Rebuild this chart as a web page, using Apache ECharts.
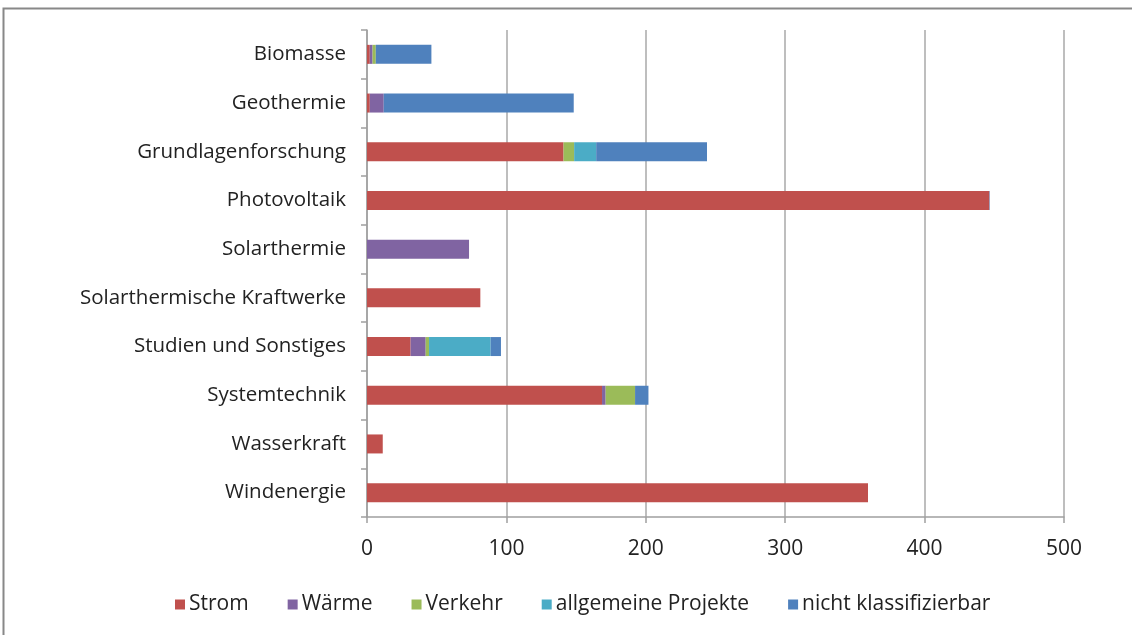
<!DOCTYPE html>
<html>
<head>
<meta charset="utf-8">
<script src="https://cdn.jsdelivr.net/npm/echarts@6/dist/echarts.min.js"></script>
<style>
html,body{margin:0;padding:0;background:#fff;}
#chart{width:1132px;height:635px;}
</style>
</head>
<body>
<div id="chart"></div>
<script>
var categories = ["Biomasse","Geothermie","Grundlagenforschung","Photovoltaik","Solarthermie","Solarthermische Kraftwerke","Studien und Sonstiges","Systemtechnik","Wasserkraft","Windenergie"];
var seriesNames = ["Strom","Wärme","Verkehr","allgemeine Projekte","nicht klassifizierbar"];
var strom      = [2, 2, 141, 446.5, 0, 81.3, 31.3, 168.6, 11.3, 359.4];
var waerme     = [2, 10, 0, 0, 73.2, 0, 10.8, 2.6, 0, 0];
var verkehr    = [2.3, 0, 7.6, 0, 0, 0, 2.4, 21.1, 0, 0];
var allgemein  = [0, 0, 15.8, 0, 0, 0, 44.2, 0, 0, 0];
var nichtKlass = [39.9, 136.3, 79.5, 0.3, 0, 0, 7.4, 9.6, 0, 0];
var xTicks = [0, 100, 200, 300, 400, 500];
var colors = ["#C0504D","#8064A2","#9BBB59","#4BACC6","#4F81BD"];

var dataSets = [strom, waerme, verkehr, allgemein, nichtKlass];
var font = "'Open Sans',sans-serif";
var chart = echarts.init(document.getElementById('chart'));
chart.setOption({
  animation: false,
  color: colors,
  graphic: [{
    type: 'rect', silent: true,
    shape: {x: 3.5, y: 8.5, width: 1200, height: 700},
    style: {fill: 'none', stroke: '#888', lineWidth: 2}
  }],
  grid: {left: 367, right: 68, top: 30, bottom: 118, containLabel: false},
  xAxis: {
    type: 'value', min: xTicks[0], max: xTicks[xTicks.length-1], interval: 100,
    axisLine: {show: true, lineStyle: {color: '#a0a0a0', width: 1.5}},
    axisTick: {show: true, length: 6, lineStyle: {color: '#a0a0a0', width: 1.5}},
    splitLine: {show: true, lineStyle: {color: '#a8a8a8', width: 1.5}},
    axisLabel: {color: '#222', fontSize: 21, fontFamily: font, margin: 22,
      formatter: function(v){ return xTicks.indexOf(v) >= 0 ? String(v) : ''; }}
  },
  yAxis: {
    type: 'category', data: categories, inverse: true,
    axisLine: {show: true, lineStyle: {color: '#a0a0a0', width: 1.5}},
    axisTick: {show: true, length: 6, lineStyle: {color: '#a0a0a0', width: 1.5}},
    axisLabel: {color: '#222', fontSize: 20.5, fontFamily: font, margin: 21}
  },
  legend: {
    bottom: 15, left: 170, itemWidth: 10, itemHeight: 10, itemGap: 39,
    icon: 'rect',
    textStyle: {color: '#222', fontSize: 21, fontFamily: font, padding: [0,0,0,-1]},
    data: seriesNames
  },
  series: seriesNames.map(function(name, i){
    return {
      name: name, type: 'bar', stack: 'total', data: dataSets[i],
      barWidth: '39%',
      itemStyle: {color: colors[i]}
    };
  })
});
</script>
</body>
</html>
